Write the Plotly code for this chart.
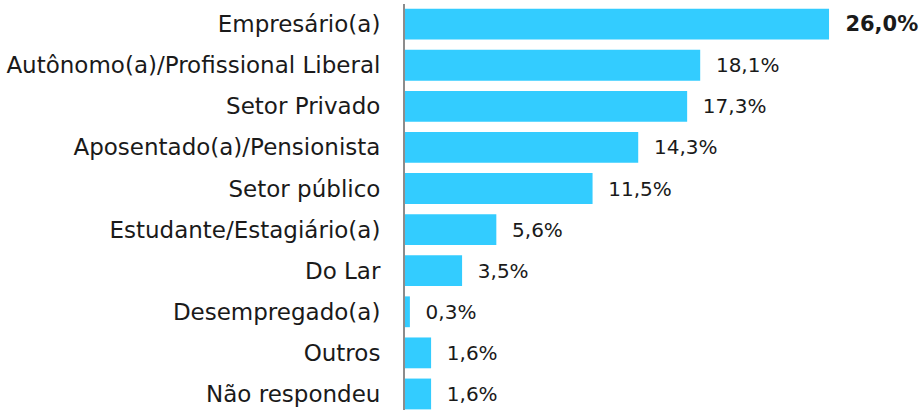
import plotly.graph_objects as go

# Occupation shares (%), top to bottom as in the reference
categories = ["Empresário(a)", "Autônomo(a)/Profissional Liberal", "Setor Privado",
              "Aposentado(a)/Pensionista", "Setor público", "Estudante/Estagiário(a)",
              "Do Lar", "Desempregado(a)", "Outros", "Não respondeu"]
values = [26.0, 18.1, 17.3, 14.3, 11.5, 5.6, 3.5, 0.3, 1.6, 1.6]
labels = ["26,0%", "18,1%", "17,3%", "14,3%", "11,5%", "5,6%", "3,5%", "0,3%", "1,6%", "1,6%"]

pad = "\u00a0\u00a0"
bar_text = []
text_sizes = []
for i, lab in enumerate(labels):
    if i == 0:
        bar_text.append(pad + "<b>" + lab + "</b>")
        text_sizes.append(21)
    else:
        bar_text.append(pad + lab)
        text_sizes.append(20)

fig = go.Figure()
fig.add_trace(go.Bar(
    y=categories,
    x=values,
    orientation="h",
    marker_color="#33CCFF",
    marker_line_width=0,
    text=bar_text,
    textposition="outside",
    textfont=dict(size=text_sizes, color="#1a1a1a"),
    cliponaxis=False,
))

# last bar runs off the bottom edge like in the original
fig.update_yaxes(
    range=[9.39, -0.49],
    showline=True, linecolor="#8c8c8c", linewidth=2,
    ticks="", ticklabelstandoff=18,
    tickfont=dict(size=23, color="#1a1a1a"),
    showgrid=False, automargin=False,
)
fig.update_xaxes(visible=False, range=[0, 31.7], automargin=False)

fig.update_layout(
    width=922, height=410,
    margin=dict(l=405, r=0, t=4, b=0),
    bargap=0.25,
    font=dict(family="DejaVu Sans"),
    plot_bgcolor="white", paper_bgcolor="white",
    showlegend=False,
)

# drop the default page margin so the figure sits at the window's corner
fig.write_html("out.html", config={"displayModeBar": False},
               post_script="document.body.style.margin='0';")
